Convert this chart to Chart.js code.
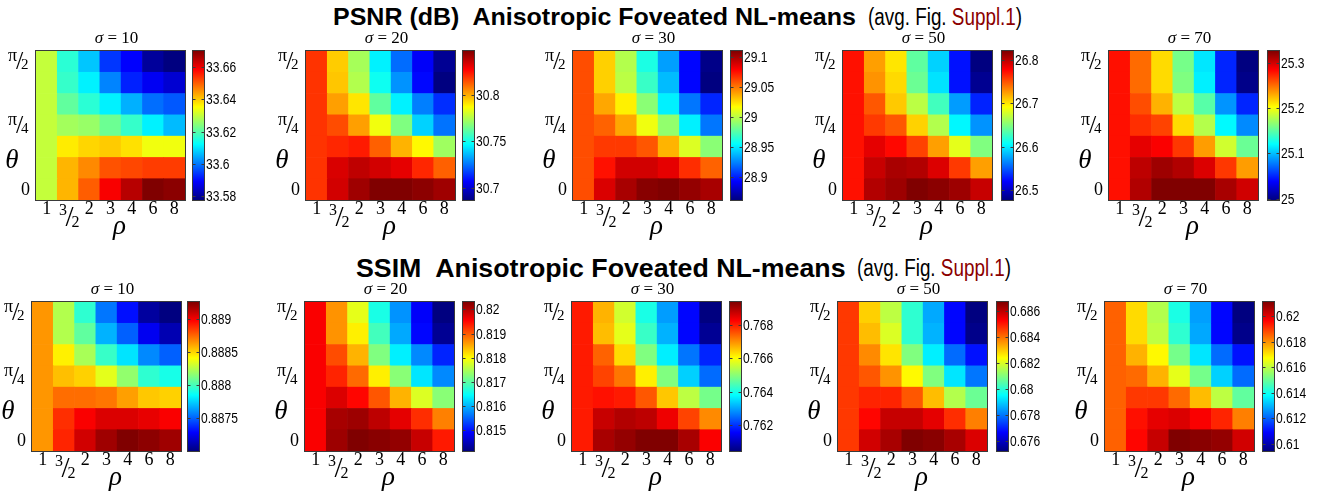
<!DOCTYPE html>
<html><head><meta charset="utf-8">
<script src="https://cdn.jsdelivr.net/npm/chart.js@4.4.1/dist/chart.umd.min.js"></script>
<style>
html,body{margin:0;padding:0;background:#fff;}
#page{position:relative;width:1326px;height:499px;overflow:hidden;background:#fff;}
canvas{position:absolute;}
.tb{position:absolute;white-space:nowrap;font-family:"Liberation Sans",Arial,sans-serif;font-weight:bold;font-size:24px;line-height:28px;color:#000;transform-origin:0 50%;}
.tr{position:absolute;white-space:nowrap;font-family:"Liberation Sans",Arial,sans-serif;font-size:23px;line-height:28px;color:#000;transform-origin:0 50%;transform:scaleX(0.82);}
.tr .red{color:#8b0000}
</style></head><body><div id="page">
<div class="tb" style="left:333px;top:3px;transform:scaleX(1.042)">PSNR (dB)&nbsp; Anisotropic Foveated NL-means</div>
<div class="tr" style="left:868px;top:3px">(avg. Fig. <span class="red">Suppl.1</span>)</div>
<div class="tb" style="left:356px;top:254px;font-size:25px;transform:scaleX(1.07)">SSIM&nbsp; Anisotropic Foveated NL-means</div>
<div class="tr" style="left:857px;top:254px">(avg. Fig. <span class="red">Suppl.1</span>)</div>
</div>
<script>
// ---------------- data ----------------
const rhoLabels = ['1','3/2','2','3','4','6','8'];
const thetaLabels = ['0','π/12','π/6','π/4','π/3','5π/12','π/2']; // bottom -> top
const thetaTickRows = [0,3,6];

// each matrix: rows from θ=π/2 (top) down to θ=0 (bottom); columns ρ = 1,3/2,2,3,4,6,8
const psnr_s10 = [
 [33.630,33.616,33.607,33.594,33.589,33.580,33.5775],
 [33.630,33.617,33.611,33.601,33.592,33.588,33.585],
 [33.630,33.621,33.616,33.611,33.605,33.599,33.597],
 [33.630,33.627,33.626,33.622,33.617,33.611,33.606],
 [33.630,33.637,33.639,33.640,33.638,33.634,33.634],
 [33.630,33.642,33.646,33.651,33.652,33.653,33.653],
 [33.630,33.642,33.650,33.659,33.665,33.670,33.669]
];
const psnr_s20 = [
 [30.819,30.795,30.773,30.745,30.724,30.706,30.690],
 [30.819,30.796,30.775,30.749,30.730,30.708,30.687],
 [30.819,30.802,30.791,30.762,30.745,30.727,30.714],
 [30.819,30.815,30.802,30.785,30.767,30.740,30.725],
 [30.819,30.821,30.823,30.812,30.799,30.788,30.772],
 [30.819,30.833,30.837,30.834,30.831,30.821,30.812],
 [30.819,30.834,30.842,30.847,30.847,30.845,30.842]
];
const psnr_s30 = [
 [29.060,29.028,28.998,28.961,28.931,28.893,28.863],
 [29.060,29.028,29.000,28.968,28.938,28.893,28.861],
 [29.060,29.038,29.020,28.988,28.951,28.921,28.901],
 [29.060,29.055,29.038,29.013,28.990,28.951,28.921],
 [29.060,29.065,29.065,29.058,29.035,29.008,28.988],
 [29.060,29.075,29.090,29.090,29.085,29.068,29.055],
 [29.060,29.088,29.100,29.108,29.110,29.105,29.100]
];
const psnr_s50 = [
 [26.772,26.724,26.700,26.638,26.591,26.526,26.478],
 [26.772,26.728,26.704,26.642,26.597,26.526,26.484],
 [26.772,26.748,26.710,26.669,26.628,26.573,26.532],
 [26.772,26.758,26.748,26.707,26.666,26.604,26.570],
 [26.772,26.786,26.775,26.755,26.724,26.683,26.649],
 [26.772,26.796,26.806,26.803,26.789,26.758,26.724],
 [26.772,26.803,26.810,26.820,26.816,26.810,26.796]
];
const psnr_s70 = [
 [25.281,25.251,25.215,25.159,25.113,25.050,24.997],
 [25.281,25.251,25.215,25.162,25.116,25.050,25.000],
 [25.281,25.261,25.228,25.182,25.149,25.086,25.050],
 [25.281,25.271,25.264,25.215,25.179,25.119,25.083],
 [25.281,25.294,25.287,25.268,25.235,25.188,25.155],
 [25.281,25.307,25.317,25.311,25.297,25.268,25.235],
 [25.281,25.311,25.327,25.327,25.327,25.314,25.301]
];
const ssim_s10 = [
 [0.88864,0.88824,0.88795,0.88755,0.88732,0.88708,0.88701],
 [0.88864,0.88824,0.88806,0.88768,0.88750,0.88726,0.88712],
 [0.88864,0.88844,0.88822,0.88797,0.88779,0.88759,0.88750],
 [0.88864,0.88855,0.88851,0.88835,0.88817,0.88795,0.88790],
 [0.88864,0.88873,0.88873,0.88871,0.88862,0.88853,0.88851],
 [0.88864,0.88887,0.88898,0.88905,0.88905,0.88902,0.88898],
 [0.88864,0.88889,0.88907,0.88918,0.88925,0.88922,0.88918]
];
const ssim_s20 = [
 [0.81957,0.81865,0.81785,0.81661,0.81581,0.81489,0.81415],
 [0.81957,0.81865,0.81809,0.81686,0.81594,0.81495,0.81427],
 [0.81957,0.81908,0.81846,0.81723,0.81637,0.81575,0.81513],
 [0.81957,0.81933,0.81890,0.81809,0.81729,0.81631,0.81575],
 [0.81957,0.81976,0.81951,0.81902,0.81846,0.81779,0.81729],
 [0.81957,0.82007,0.82013,0.81994,0.81970,0.81927,0.81877],
 [0.81957,0.82013,0.82031,0.82025,0.82019,0.81988,0.81939]
];
const ssim_s30 = [
 [0.76806,0.76671,0.76563,0.76400,0.76292,0.76157,0.76040],
 [0.76806,0.76662,0.76581,0.76428,0.76310,0.76157,0.76058],
 [0.76806,0.76743,0.76635,0.76491,0.76364,0.76256,0.76184],
 [0.76806,0.76770,0.76725,0.76617,0.76491,0.76337,0.76247],
 [0.76806,0.76815,0.76806,0.76752,0.76653,0.76545,0.76482],
 [0.76806,0.76879,0.76897,0.76888,0.76843,0.76770,0.76707],
 [0.76806,0.76906,0.76924,0.76942,0.76942,0.76906,0.76833]
];
const ssim_s50 = [
 [0.68460,0.68290,0.68164,0.68005,0.67857,0.67674,0.67526],
 [0.68460,0.68312,0.68198,0.68005,0.67868,0.67674,0.67538],
 [0.68460,0.68369,0.68267,0.68096,0.67936,0.67788,0.67686],
 [0.68460,0.68426,0.68358,0.68244,0.68096,0.67925,0.67800],
 [0.68460,0.68483,0.68483,0.68426,0.68312,0.68153,0.68073],
 [0.68460,0.68517,0.68586,0.68586,0.68552,0.68472,0.68381],
 [0.68460,0.68574,0.68620,0.68665,0.68654,0.68620,0.68563]
];
const ssim_s70 = [
 [0.61854,0.61714,0.61585,0.61410,0.61270,0.61094,0.60942],
 [0.61854,0.61714,0.61597,0.61433,0.61281,0.61094,0.60954],
 [0.61854,0.61761,0.61679,0.61515,0.61352,0.61211,0.61106],
 [0.61854,0.61843,0.61761,0.61644,0.61515,0.61328,0.61211],
 [0.61854,0.61901,0.61901,0.61843,0.61749,0.61597,0.61492],
 [0.61854,0.61948,0.61994,0.62006,0.61971,0.61924,0.61819],
 [0.61854,0.61959,0.62030,0.62111,0.62100,0.62088,0.62018]
];

// colorbar tick values
const psnrTicks_s10 = [33.58,33.6,33.62,33.64,33.66];
const psnrTicks_s20 = [30.7,30.75,30.8];
const psnrTicks_s30 = [28.9,28.95,29,29.05,29.1];
const psnrTicks_s50 = [26.5,26.6,26.7,26.8];
const psnrTicks_s70 = [25,25.1,25.2,25.3];
const ssimTicks_s10 = [0.8875,0.888,0.8885,0.889];
const ssimTicks_s20 = [0.815,0.816,0.817,0.818,0.819,0.82];
const ssimTicks_s30 = [0.762,0.764,0.766,0.768];
const ssimTicks_s50 = [0.676,0.678,0.68,0.682,0.684,0.686];
const ssimTicks_s70 = [0.61,0.612,0.614,0.616,0.618,0.62];

// ---------------- layout ----------------
const panels = [
 {sigma:10, data:psnr_s10, ticks:psnrTicks_s10, hx:36,   hy:51,  cx:193},
 {sigma:20, data:psnr_s20, ticks:psnrTicks_s20, hx:306,  hy:51,  cx:463},
 {sigma:30, data:psnr_s30, ticks:psnrTicks_s30, hx:573,  hy:51,  cx:731},
 {sigma:50, data:psnr_s50, ticks:psnrTicks_s50, hx:843,  hy:51,  cx:1002},
 {sigma:70, data:psnr_s70, ticks:psnrTicks_s70, hx:1109, hy:51,  cx:1268},
 {sigma:10, data:ssim_s10, ticks:ssimTicks_s10, hx:32,   hy:302, cx:188},
 {sigma:20, data:ssim_s20, ticks:ssimTicks_s20, hx:305,  hy:302, cx:463},
 {sigma:30, data:ssim_s30, ticks:ssimTicks_s30, hx:572,  hy:302, cx:730},
 {sigma:50, data:ssim_s50, ticks:ssimTicks_s50, hx:838,  hy:302, cx:997},
 {sigma:70, data:ssim_s70, ticks:ssimTicks_s70, hx:1105, hy:302, cx:1263}
];
const W = 149, H = 149, CW = 11;
const SERIF = '"Liberation Serif","Times New Roman",serif';
const SANS = '"Liberation Sans",Arial,sans-serif';
const page = document.getElementById('page');

function jet(f){
  f = Math.max(0, Math.min(1, f));
  const c = k => Math.round(255*Math.max(0, Math.min(1, 1.5 - Math.abs(4*f - k))));
  return `rgb(${c(3)},${c(2)},${c(1)})`;
}

function heatText(p){
  return {
    id:'heatText',
    afterDraw(chart){
      const ctx = chart.ctx, ca = chart.chartArea, xs = chart.scales.x, ys = chart.scales.y;
      ctx.save();
      ctx.strokeStyle = '#3a3a3a'; ctx.lineWidth = 1;
      ctx.strokeRect(Math.round(ca.left)-0.5, Math.round(ca.top)-0.5, Math.round(ca.right-ca.left)+1, Math.round(ca.bottom-ca.top)+1);
      ctx.fillStyle = '#000';
      ctx.textBaseline = 'alphabetic';
      // title
      const tcx = (ca.left+ca.right)/2 + 6;
      const rest = ' = ' + p.sigma;
      ctx.font = `italic 17px ${SERIF}`; const w1 = ctx.measureText('σ').width;
      ctx.font = `17px ${SERIF}`; const w2 = ctx.measureText(rest).width;
      const x0 = tcx - (w1+w2)/2;
      ctx.textAlign = 'left';
      ctx.font = `italic 17px ${SERIF}`; ctx.fillText('σ', x0, ca.top-8);
      ctx.font = `17px ${SERIF}`; ctx.fillText(rest, x0+w1, ca.top-8);
      // x ticks
      const B = ca.bottom + 14;
      rhoLabels.forEach((lab,i)=>{
        const xc = xs.getPixelForValue(i);
        if (lab.includes('/')){
          const [num,den] = lab.split('/');
          ctx.textAlign = 'left';
          ctx.font = `16px ${SERIF}`; ctx.fillText(num, xc-9, B+1);
          ctx.font = `29px ${SERIF}`; ctx.fillText('/', xc-2.5, B+12);
          ctx.font = `16px ${SERIF}`; ctx.fillText(den, xc+3.5, B+13);
        } else {
          ctx.textAlign = 'center';
          ctx.font = `18px ${SERIF}`; ctx.fillText(lab, xc, B);
        }
      });
      // y ticks
      const L = ca.left;
      thetaTickRows.forEach(r=>{
        const yc = ys.getPixelForValue(r+0.5);
        const lab = thetaLabels[r];
        if (lab.includes('/')){
          const [num,den] = lab.split('/');
          ctx.textAlign = 'left';
          ctx.font = `18px ${SERIF}`; ctx.fillText(num, L-28, yc-1);
          ctx.font = `26px ${SERIF}`; ctx.fillText('/', L-20, yc+7);
          ctx.font = `15px ${SERIF}`; ctx.fillText(den, L-15, yc+7);
        } else {
          ctx.textAlign = 'right';
          ctx.font = `18px ${SERIF}`; ctx.fillText(lab, L-6, yc+6);
        }
      });
      // axis labels
      ctx.textAlign = 'center';
      ctx.font = `italic 27px ${SERIF}`;
      ctx.fillText('ρ', (ca.left+ca.right)/2 + 9, ca.bottom + 34);
      ctx.fillText('θ', ca.left - 24, ca.top + 117);
      ctx.restore();
    }
  };
}

function cbarText(p){
  return {
    id:'cbarText',
    afterDraw(chart){
      const ctx = chart.ctx, ca = chart.chartArea, ys = chart.scales.y;
      ctx.save();
      ctx.strokeStyle = '#3a3a3a'; ctx.lineWidth = 1;
      const l = Math.round(ca.left)-0.5, r = Math.round(ca.right)+0.5;
      ctx.strokeRect(l, Math.round(ca.top)-0.5, r-l, Math.round(ca.bottom-ca.top)+1);
      ctx.fillStyle = '#000';
      ctx.textBaseline = 'middle'; ctx.textAlign = 'left';
      ctx.font = `14px ${SANS}`;
      p.ticks.forEach(t=>{
        const y = Math.round(ys.getPixelForValue(t)) + 0.5;
        ctx.beginPath();
        ctx.moveTo(l, y); ctx.lineTo(l+3, y);
        ctx.moveTo(r, y); ctx.lineTo(r-3, y);
        ctx.stroke();
        ctx.save();
        ctx.translate(ca.right+2, y+0.5);
        ctx.scale(0.86, 1);
        ctx.fillText(String(t), 0, 0);
        ctx.restore();
      });
      ctx.restore();
    }
  };
}

function makeHeat(p){
  const PL=46, PT=32, PR=6, PB=52;
  const cv = document.createElement('canvas');
  cv.width = PL+W+PR; cv.height = PT+H+PB;
  cv.style.left = (p.hx-PL)+'px'; cv.style.top = (p.hy-PT)+'px';
  page.appendChild(cv);
  const all = p.data.flat();
  const vmin = Math.min(...all), vmax = Math.max(...all);
  const rowsBottomUp = p.data.slice().reverse();
  const datasets = rowsBottomUp.map((row, r) => ({
    label: thetaLabels[r],
    data: row.map(() => 1),
    backgroundColor: row.map(v => jet((v - vmin)/(vmax - vmin))),
    borderWidth: 0, barPercentage: 1, categoryPercentage: 1
  }));
  new Chart(cv, {
    type:'bar',
    data:{labels: rhoLabels, datasets},
    options:{
      responsive:false, animation:false, devicePixelRatio:1,
      layout:{padding:{left:PL, top:PT, right:PR, bottom:PB}},
      plugins:{legend:{display:false}, tooltip:{enabled:false}},
      scales:{
        x:{stacked:true, display:false},
        y:{stacked:true, display:false, min:0, max:thetaLabels.length}
      }
    },
    plugins:[heatText(p)]
  });
}

function makeCbar(p){
  const PL=2, PT=4, PR=62, PB=4;
  const cv = document.createElement('canvas');
  cv.width = PL+CW+PR; cv.height = PT+H+PB;
  cv.style.left = (p.cx-PL)+'px'; cv.style.top = (p.hy-PT)+'px';
  page.appendChild(cv);
  const all = p.data.flat();
  const vmin = Math.min(...all), vmax = Math.max(...all);
  new Chart(cv, {
    type:'bar',
    data:{labels:['c'], datasets:[{
      data:[[vmin, vmax]],
      backgroundColor: (c) => {
        const ca = c.chart.chartArea; if (!ca) return 'rgba(0,0,0,0)';
        const g = c.chart.ctx.createLinearGradient(0, ca.bottom, 0, ca.top);
        for (let i=0;i<=64;i++) g.addColorStop(i/64, jet(i/64));
        return g;
      },
      borderWidth:0, barPercentage:1, categoryPercentage:1
    }]},
    options:{
      responsive:false, animation:false, devicePixelRatio:1,
      layout:{padding:{left:PL, top:PT, right:PR, bottom:PB}},
      plugins:{legend:{display:false}, tooltip:{enabled:false}},
      scales:{ x:{display:false}, y:{display:false, min:vmin, max:vmax} }
    },
    plugins:[cbarText(p)]
  });
}

panels.forEach(p => { makeHeat(p); makeCbar(p); });
</script>
</body></html>
